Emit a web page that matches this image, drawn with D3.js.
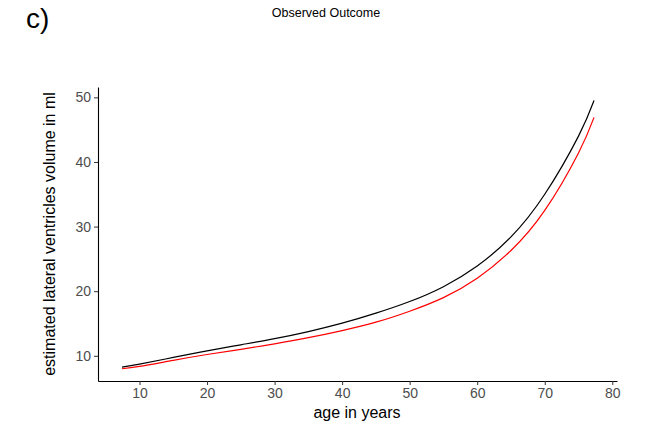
<!DOCTYPE html>
<html>
<head>
<meta charset="utf-8">
<script src="https://cdn.jsdelivr.net/npm/d3@7"></script>
<style>
  body { margin: 0; background: #fff; }
  text { font-family: "Liberation Sans", Arial, Helvetica, sans-serif; }
</style>
</head>
<body>
<div id="chart"></div>
<script>
// values
const age      = [7.4, 10, 15, 20, 25, 30, 35, 40, 45, 50, 55, 60, 65, 70, 75, 77.3];
const observed = [8.25, 8.7, 9.75, 10.75, 11.7, 12.65, 13.75, 15.05, 16.6, 18.4, 20.7, 23.9, 28.4, 35.0, 44.0, 49.5];
const adjusted = [8.0, 8.35, 9.3, 10.2, 11.0, 11.85, 12.8, 13.9, 15.2, 16.9, 19.0, 22.0, 26.3, 32.5, 41.4, 46.9];
const xTicks = [10, 20, 30, 40, 50, 60, 70, 80];
const yTicks = [10, 20, 30, 40, 50];

const width = 670, height = 428;
const panel = { left: 98, right: 617, top: 87, bottom: 381 };

var svg = d3.select("#chart").append("svg")
    .attr("width", width)
    .attr("height", height);

var x = d3.scaleLinear()
    .domain([3.85, 80.7])
    .range([panel.left, panel.right]);

var y = d3.scaleLinear()
    .domain([6.1, 51.6])
    .range([panel.bottom, panel.top]);

// axes
var xAxis = svg.append("g")
    .attr("transform", "translate(0," + panel.bottom + ")")
    .call(d3.axisBottom(x).tickValues(xTicks).tickSize(4).tickPadding(3).tickSizeOuter(0));

var yAxis = svg.append("g")
    .attr("transform", "translate(" + panel.left + ",0)")
    .call(d3.axisLeft(y).tickValues(yTicks).tickSize(4).tickPadding(3).tickSizeOuter(0));

[xAxis, yAxis].forEach(function (a) {
    a.select(".domain").attr("stroke", "#000").attr("stroke-width", 1.1);
    a.selectAll(".tick line").attr("stroke", "#333").attr("stroke-width", 1);
    a.selectAll(".tick text")
        .attr("fill", "#4d4d4d")
        .style("font-size", "14px")
        .style("font-family", "'Liberation Sans', Arial, sans-serif");
});

var line = d3.line()
    .curve(d3.curveNatural)
    .x(function (d) { return x(d[0]); })
    .y(function (d) { return y(d[1]); });

svg.append("path")
    .datum(age.map((a, i) => [a, adjusted[i]]))
    .attr("d", line)
    .attr("fill", "none")
    .attr("stroke", "#ff0000")
    .attr("stroke-width", 1.2);

svg.append("path")
    .datum(age.map((a, i) => [a, observed[i]]))
    .attr("d", line)
    .attr("fill", "none")
    .attr("stroke", "#000")
    .attr("stroke-width", 1.2);

// labels
svg.append("text")
    .attr("x", 26)
    .attr("y", 28)
    .style("font-size", "28px")
    .text("c)");

svg.append("text")
    .attr("x", 326)
    .attr("y", 17)
    .attr("text-anchor", "middle")
    .style("font-size", "12.5px")
    .text("Observed Outcome");

svg.append("text")
    .attr("x", 357)
    .attr("y", 418)
    .attr("text-anchor", "middle")
    .style("font-size", "16px")
    .text("age in years");

svg.append("text")
    .attr("transform", "translate(55,234) rotate(-90)")
    .attr("text-anchor", "middle")
    .style("font-size", "16px")
    .text("estimated lateral ventricles volume in ml");
</script>
</body>
</html>
